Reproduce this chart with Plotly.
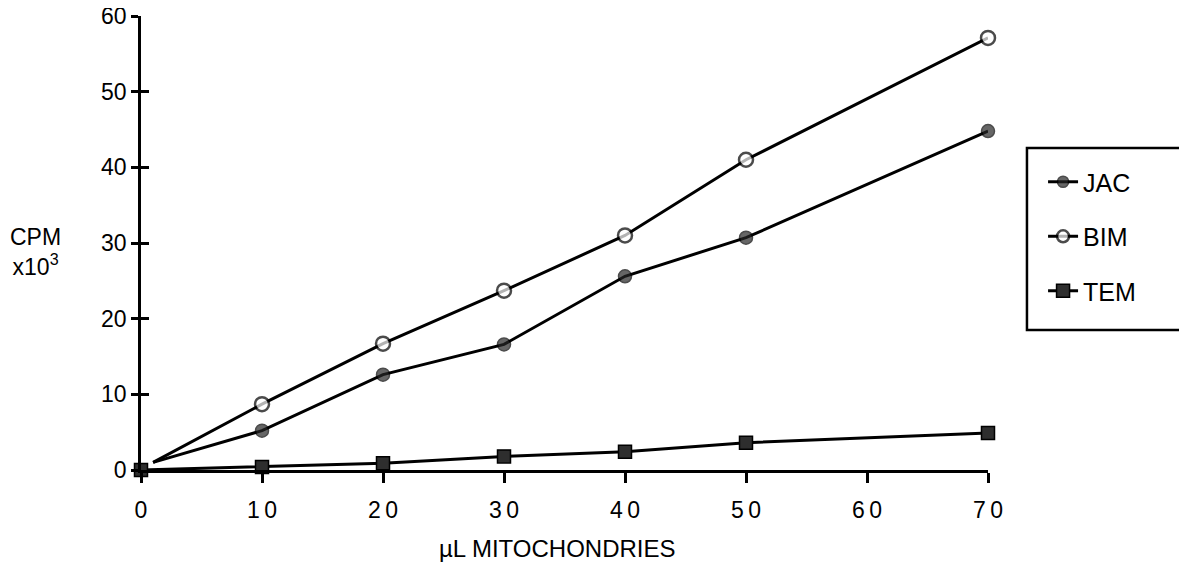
import plotly.graph_objects as go

# Data (x in uL mitochondria, y in CPM x10^3)
x_pts = [0, 10, 20, 30, 40, 50, 70]
jac_x = [1, 10, 20, 30, 40, 50, 70]
jac_y = [1.0, 5.2, 12.6, 16.6, 25.6, 30.7, 44.8]
bim_x = [1, 10, 20, 30, 40, 50, 70]
bim_y = [1.0, 8.7, 16.7, 23.7, 31.0, 41.0, 57.1]
tem_y = [0.0, 0.4, 0.9, 1.8, 2.4, 3.6, 4.9]

x_ticks = [0, 10, 20, 30, 40, 50, 60, 70]
x_ticktext = ["0", "1\u20090", "2\u20090", "3\u20090", "4\u20090", "5\u20090", "6\u20090", "7\u20090"]
y_ticks = [0, 10, 20, 30, 40, 50, 60]

FONT = "Liberation Sans, Arial, sans-serif"

fig = go.Figure()

fig.add_trace(go.Scatter(
    x=jac_x, y=jac_y, name="JAC", mode="lines+markers", legendgroup="a",
    line=dict(color="black", width=3),
    marker=dict(symbol="circle", size=[0] + [13] * 6, color="#262626",
                line=dict(color="black", width=1.5)),
    cliponaxis=False,
))
fig.add_trace(go.Scatter(
    x=bim_x, y=bim_y, name="BIM", mode="lines+markers", legendgroup="b",
    line=dict(color="black", width=3),
    marker=dict(symbol="circle", size=[0] + [14] * 6, color="white",
                line=dict(color="black", width=2.5)),
    cliponaxis=False,
))
fig.add_trace(go.Scatter(
    x=x_pts, y=tem_y, name="TEM", mode="lines+markers", legendgroup="c",
    line=dict(color="black", width=3),
    marker=dict(symbol="square", size=13, color="#2e2e2e",
                line=dict(color="black", width=1.5)),
    cliponaxis=False,
))
# invisible trace to create overlay axis for inward y ticks
fig.add_trace(go.Scatter(x=[None], y=[None], yaxis="y2", showlegend=False,
                         hoverinfo="skip"))

fig.update_layout(
    width=1179, height=559,
    margin=dict(l=133, r=199, t=8, b=97, autoexpand=False),
    paper_bgcolor="white", plot_bgcolor="white",
    font=dict(family=FONT, size=23, color="black"),
    showlegend=True,
    legend=dict(
        x=1.065, xanchor="left", y=0.685, yanchor="top",
        bgcolor="rgba(0,0,0,0)", borderwidth=0,
        font=dict(family=FONT, size=25, color="black"),
        tracegroupgap=19,
    ),
    xaxis=dict(
        range=[0, 70], tickvals=x_ticks, ticktext=x_ticktext,
        showgrid=False, zeroline=False, automargin=False,
        showline=True, linecolor="black", linewidth=2.5,
        ticks="outside", ticklen=10, tickwidth=2.5, tickcolor="black",
        ticklabelstandoff=8,
        tickfont=dict(family=FONT, size=23),
    ),
    yaxis=dict(
        range=[0, 60], tickvals=y_ticks,
        showgrid=False, zeroline=False, automargin=False,
        showline=True, linecolor="black", linewidth=2.5,
        ticks="outside", ticklen=7, tickwidth=2.5, tickcolor="black",
        ticklabeloverflow="allow",
        tickfont=dict(family=FONT, size=23),
    ),
    yaxis2=dict(
        range=[0, 60], tickvals=y_ticks, overlaying="y", side="left",
        anchor="x", showgrid=False, zeroline=False, showline=False,
        automargin=False,
        ticks="inside", ticklen=8, tickwidth=2.5, tickcolor="black",
        showticklabels=False,
    ),
    shapes=[dict(
        type="rect", xref="paper", yref="paper",
        x0=1.046, x1=1.2326, y0=0.3084, y1=0.7093,
        line=dict(color="black", width=2.5), fillcolor="rgba(0,0,0,0)",
    )],
    annotations=[
        dict(text="CPM<br>x10<sup>3</sup>", xref="paper", yref="paper",
             x=-0.124, y=0.48, xanchor="center", yanchor="middle",
             showarrow=False, align="center",
             font=dict(family=FONT, size=23)),
        dict(text="\u00b5L MITOCHONDRIES", xref="paper", yref="paper",
             x=0.4917, y=-0.172, xanchor="center", yanchor="middle",
             showarrow=False,
             font=dict(family=FONT, size=24)),
    ],
)

fig.write_html("out.html")
